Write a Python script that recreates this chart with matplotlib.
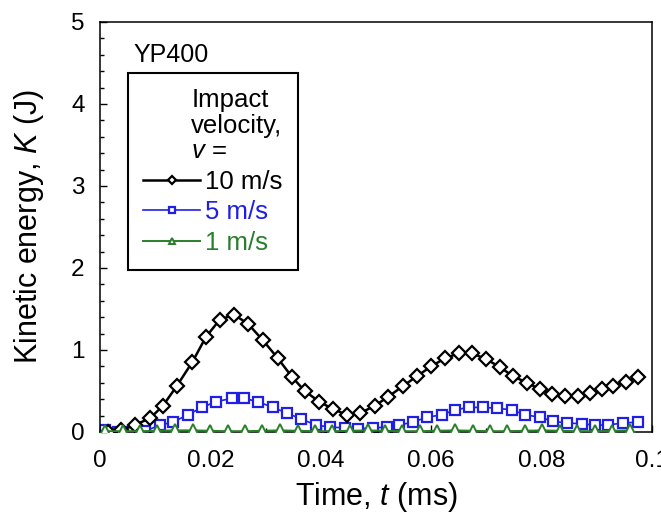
import matplotlib
matplotlib.use("Agg")
import matplotlib.pyplot as plt
from matplotlib.ticker import MultipleLocator, FixedLocator

plt.rcParams["font.family"] = ["Liberation Sans", "DejaVu Sans"]
plt.rcParams["mathtext.fontset"] = "custom"
plt.rcParams["mathtext.rm"] = "Liberation Sans"
plt.rcParams["mathtext.it"] = "Liberation Sans:italic"

# 10 m/s
t_10 = [0.0014, 0.0038, 0.0063, 0.0091, 0.0114, 0.0139, 0.0167, 0.0192, 0.0217, 0.0243,
        0.0268, 0.0295, 0.0322, 0.0348, 0.0371, 0.0397, 0.0422, 0.0447, 0.0471, 0.0498,
        0.0522, 0.0549, 0.0574, 0.0600, 0.0625, 0.0650, 0.0674, 0.0699, 0.0725, 0.0748,
        0.0774, 0.0797, 0.0819, 0.0842, 0.0866, 0.0888, 0.0909, 0.0929, 0.0953, 0.0975]
k_10 = [0.00, 0.02, 0.085, 0.17, 0.32, 0.56, 0.85, 1.16, 1.37, 1.43,
        1.32, 1.12, 0.90, 0.67, 0.50, 0.37, 0.28, 0.21, 0.23, 0.32,
        0.43, 0.56, 0.68, 0.80, 0.90, 0.96, 0.96, 0.89, 0.79, 0.68,
        0.60, 0.52, 0.46, 0.44, 0.44, 0.48, 0.52, 0.56, 0.61, 0.67]

# 5 m/s
t_5 = [0.0009, 0.0033, 0.0058, 0.0082, 0.0109, 0.0132, 0.0159, 0.0185, 0.0210, 0.0239,
       0.0261, 0.0286, 0.0313, 0.0339, 0.0364, 0.0391, 0.0417, 0.0444, 0.0467, 0.0495,
       0.0520, 0.0542, 0.0567, 0.0592, 0.0620, 0.0643, 0.0668, 0.0694, 0.0719, 0.0746,
       0.0770, 0.0797, 0.0821, 0.0846, 0.0873, 0.0897, 0.0920, 0.0947, 0.0975]
k_5 = [0.024, 0.00, 0.00, 0.012, 0.085, 0.12, 0.21, 0.30, 0.37, 0.41,
       0.41, 0.37, 0.30, 0.23, 0.16, 0.085, 0.06, 0.05, 0.04, 0.05,
       0.06, 0.085, 0.12, 0.18, 0.21, 0.27, 0.30, 0.30, 0.29, 0.27,
       0.21, 0.18, 0.13, 0.11, 0.10, 0.085, 0.085, 0.11, 0.12]

# 1 m/s
t_1 = [0.0009, 0.0041, 0.0072, 0.0104, 0.0136, 0.0168, 0.0199, 0.0231, 0.0263, 0.0294,
       0.0326, 0.0358, 0.0389, 0.0421, 0.0453, 0.0485, 0.0516, 0.0548, 0.0580, 0.0611,
       0.0643, 0.0675, 0.0706, 0.0738, 0.0770, 0.0801, 0.0833, 0.0865, 0.0897, 0.0928,
       0.0960]
k_1 = [0.01, 0.01, 0.01, 0.015, 0.02, 0.02, 0.015, 0.01, 0.01, 0.015,
       0.02, 0.015, 0.01, 0.01, 0.015, 0.02, 0.015, 0.01, 0.01, 0.015,
       0.02, 0.015, 0.01, 0.01, 0.015, 0.02, 0.015, 0.01, 0.01, 0.015,
       0.02]

x_ticks = [0, 0.02, 0.04, 0.06, 0.08, 0.1]
x_labels = ["0", "0.02", "0.04", "0.06", "0.08", "0.1"]
y_ticks = [0, 1, 2, 3, 4, 5]

blue = "#1f1fe6"
green = "#2a7f2a"

fig = plt.figure(figsize=(6.61, 5.17), dpi=100)
ax = fig.add_axes([100 / 661, 1 - 432 / 517, 552 / 661, 410 / 517])

ax.plot(t_10, k_10, color="black", lw=1.8, marker="D", ms=6.8, mfc="white",
        mec="black", mew=1.6, label="10 m/s", zorder=3)
ax.plot(t_5, k_5, color=blue, lw=1.2, marker="s", ms=7.3, mfc="white",
        mec=blue, mew=1.6, label="5 m/s", zorder=2)
ax.plot(t_1, k_1, color=green, lw=1.4, marker="^", ms=8, mfc="white",
        mec=green, mew=1.4, label="1 m/s", zorder=4)

ax.set_xlim(0, 0.1)
ax.set_ylim(0, 5)
ax.xaxis.set_major_locator(FixedLocator(x_ticks))
ax.set_xticklabels(x_labels)
ax.xaxis.set_minor_locator(MultipleLocator(0.01))
ax.yaxis.set_major_locator(FixedLocator(y_ticks))
ax.yaxis.set_minor_locator(MultipleLocator(0.2))

ax.tick_params(which="both", direction="in", top=False, right=False,
               labelsize=17.5, width=1.0)
ax.tick_params(axis="x", which="major", length=5, pad=13)
ax.tick_params(axis="y", which="major", length=5, pad=11)
ax.tick_params(which="minor", length=3)
for s in ax.spines.values():
    s.set_linewidth(1.1)

ax.set_xlabel("Time, $t$ (ms)", fontsize=22, labelpad=6)
ax.set_ylabel("Kinetic energy, $K$ (J)", fontsize=22, labelpad=18)

ax.text(0.06, 0.902, "YP400", transform=ax.transAxes, fontsize=18,
        ha="left", va="baseline")

leg = ax.legend(loc="upper left", bbox_to_anchor=(28 / 552, (432 - 73) / 410),
                borderaxespad=0, fontsize=18.5, title="Impact\nvelocity,\n$v$ =",
                title_fontsize=18.5, alignment="right", frameon=True,
                fancybox=False, framealpha=1, edgecolor="black",
                handlelength=2.2, handletextpad=0.2, labelspacing=0.25,
                borderpad=0.6, markerscale=0.62, labelcolor="linecolor")
leg.get_frame().set_linewidth(1.5)
leg.get_title().set_linespacing(1.08)

fig.savefig("out.png", dpi=100)
